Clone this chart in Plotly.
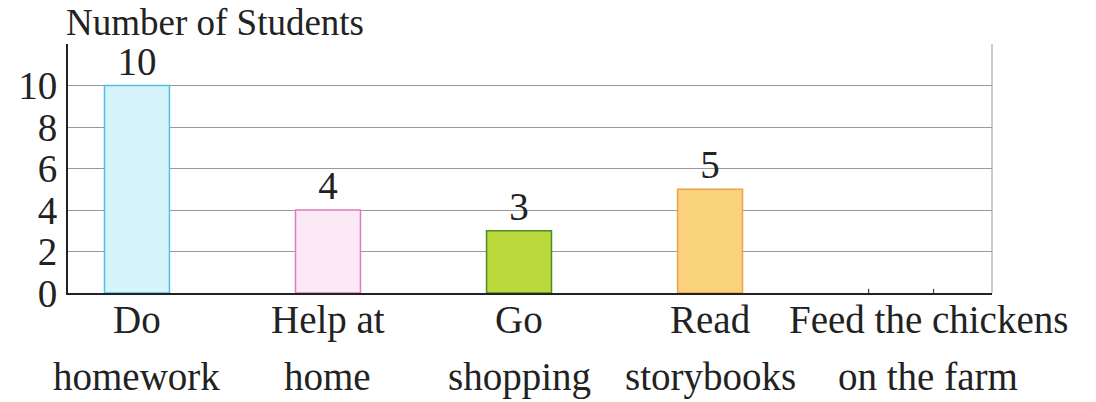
import plotly.graph_objects as go

# ---- data ----
categories = ["Do homework", "Help at home", "Go shopping", "Read storybooks", "Feed the chickens on the farm"]
label_line1 = ["Do", "Help at", "Go", "Read", "Feed the chickens"]
label_line2 = ["homework", "home", "shopping", "storybooks", "on the farm"]
students = [10, 4, 3, 5, 0]
y_ticks = [0, 2, 4, 6, 8, 10]
y_title = "Number of Students"

# ---- style ----
fill_colors = ["#d7f3fb", "#fbe9f6", "#bcd93c", "#fbd27c"]
line_colors = ["#56bce8", "#e07cbc", "#4e8a2c", "#f0a04c"]
fill_colors.append("rgba(0,0,0,0)")
line_colors.append("rgba(0,0,0,0)")
FONT = "Liberation Serif"
FS = 39
BAR_W = 0.34
xpos = list(range(len(categories)))
label_xshift = [0, 0, 0, 0, 27]

W, H = 1096, 402
ML, MR, MT, MB = 68, 104, 44, 109
plot_h = H - MT - MB

fig = go.Figure()
fig.add_trace(go.Bar(
    x=xpos, y=students, width=BAR_W,
    marker=dict(color=fill_colors, line=dict(color=line_colors, width=1.5)),
    text=[str(v) if v > 0 else "" for v in students],
    textposition="outside", cliponaxis=False,
    textfont=dict(family=FONT, size=FS, color="#222"),
    hovertext=categories,
))

shapes = []
# zero-height bar marks
for xi, v in zip(xpos, students):
    if v == 0:
        for side in (-1, 1):
            shapes.append(dict(type="line", xref="x", yref="y",
                               x0=xi + side * BAR_W / 2, x1=xi + side * BAR_W / 2,
                               y0=0, y1=0.2, line=dict(color="#444", width=1.2)))
# right border
shapes.append(dict(type="line", xref="paper", yref="paper", x0=1, x1=1, y0=0, y1=1,
                   line=dict(color="#999", width=1)))

annotations = []
for xi, l1, l2, dx in zip(xpos, label_line1, label_line2, label_xshift):
    annotations.append(dict(x=xi, y=0, xref="x", yref="paper", text=l1, showarrow=False,
                            yanchor="top", yshift=-3, xshift=dx,
                            font=dict(family=FONT, size=FS, color="#222")))
    annotations.append(dict(x=xi, y=0, xref="x", yref="paper", text=l2, showarrow=False,
                            yanchor="top", yshift=-60, xshift=dx,
                            font=dict(family=FONT, size=FS, color="#222")))
annotations.append(dict(x=0, y=1 + MT / plot_h, xref="paper", yref="paper", text=y_title,
                        showarrow=False, xanchor="left", yanchor="top", yshift=0, xshift=-4,
                        font=dict(family=FONT, size=37, color="#222")))

fig.update_layout(
    width=W, height=H,
    margin=dict(l=ML, r=MR, t=MT, b=MB),
    paper_bgcolor="white", plot_bgcolor="white",
    showlegend=False,
    shapes=shapes, annotations=annotations,
    xaxis=dict(range=[-0.361, 4.476], showticklabels=False, showgrid=False, zeroline=False,
               showline=True, linecolor="#222", linewidth=2, ticks=""),
    yaxis=dict(range=[0, 12], tickvals=y_ticks + [12], ticktext=[str(t) for t in y_ticks] + [""],
               showgrid=True, gridcolor="#999", gridwidth=1, zeroline=False,
               showline=True, linecolor="#222", linewidth=2, ticks="",
               ticklabelstandoff=1,
               tickfont=dict(family=FONT, size=FS, color="#222")),
)

fig.write_html("out.html", config={"displayModeBar": False},
               post_script="document.body.style.margin='0';")
